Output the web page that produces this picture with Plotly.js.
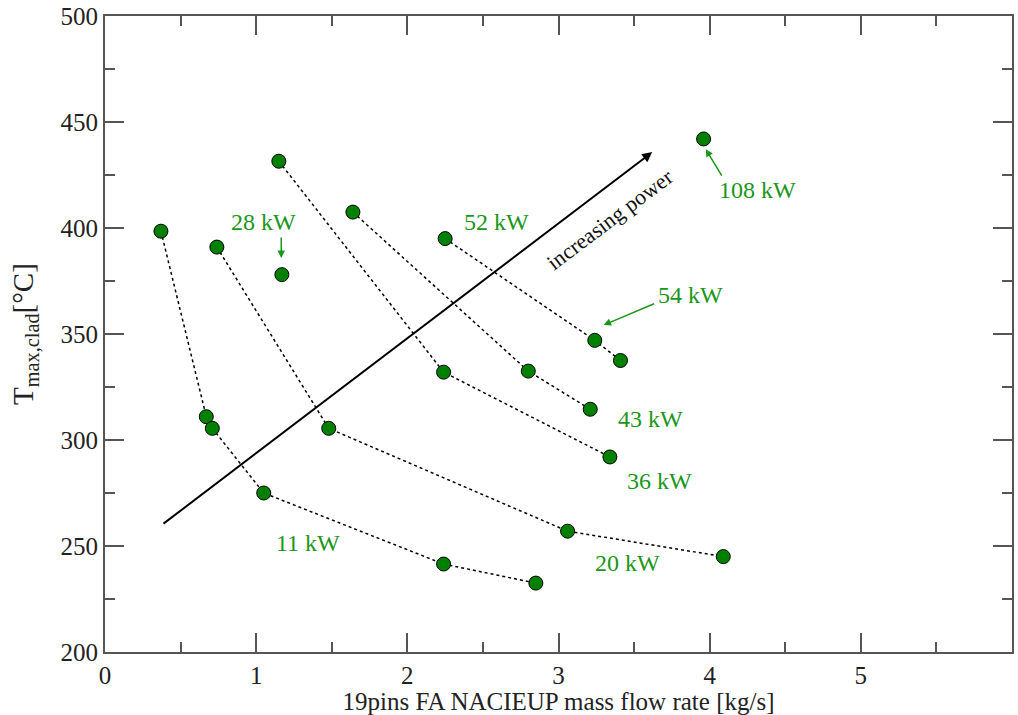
<!DOCTYPE html>
<html>
<head>
<meta charset="utf-8">
<script src="https://cdn.plot.ly/plotly-3.0.1.min.js"></script>
<style>html,body{margin:0;padding:0;background:#fff;}#chart{width:1018px;height:715px;}</style>
</head>
<body>
<div id="chart"></div>
<script>
// Series data (mass flow rate [kg/s], max clad temperature [°C])
const s11_x = [0.37, 0.67, 0.71, 1.05, 2.24, 2.85];
const s11_y = [398.5, 311, 305.5, 275, 241.5, 232.5];
const s20_x = [0.74, 1.48, 3.06, 4.09];
const s20_y = [391, 305.5, 257, 245];
const s36_x = [1.15, 2.24, 3.34];
const s36_y = [431.5, 332, 292];
const s43_x = [1.64, 2.80, 3.21];
const s43_y = [407.5, 332.5, 314.5];
const s52_x = [2.25, 3.24, 3.41];
const s52_y = [395, 347, 337.5];
const s28_x = [1.17];
const s28_y = [378];
const s108_x = [3.96];
const s108_y = [442];

const seriesList = [
  [s11_x, s11_y], [s20_x, s20_y], [s36_x, s36_y], [s43_x, s43_y], [s52_x, s52_y],
  [s28_x, s28_y], [s108_x, s108_y]
];

const FONT = 'Liberation Serif, Times New Roman, serif';
const GREEN_TXT = '#1a961a';
const markerStyle = {size: 14, color: '#008000', line: {color: '#000', width: 1}};

const traces = seriesList.map(s => ({
  x: s[0], y: s[1], type: 'scatter',
  mode: s[0].length > 1 ? 'lines+markers' : 'markers',
  line: {color: '#000', width: 1.5, dash: 'dot'},
  marker: markerStyle, hoverinfo: 'x+y', showlegend: false
}));

function lbl(text, x, y) {
  return {text: text, x: x, y: y, xref: 'x', yref: 'y', showarrow: false,
    font: {family: FONT, size: 24, color: GREEN_TXT}};
}
function arr(x, y, ax, ay, color, width, head, size) {
  return {text: '', x: x, y: y, ax: ax, ay: ay, xref: 'x', yref: 'y', axref: 'x', ayref: 'y',
    showarrow: true, arrowhead: head, arrowsize: size, arrowwidth: width, arrowcolor: color, standoff: 0, startstandoff: 0};
}

const annotations = [
  lbl('11 kW', 1.344, 251.5),
  lbl('20 kW', 3.457, 242.1),
  lbl('36 kW', 3.669, 280.8),
  lbl('43 kW', 3.609, 310.0),
  lbl('52 kW', 2.589, 402.8),
  lbl('54 kW', 3.874, 368.4),
  lbl('28 kW', 1.046, 402.8),
  lbl('108 kW', 4.318, 417.9),
  arr(1.166, 385.8, 1.166, 396.2, '#1a961a', 1.5, 2, 1),
  arr(3.298, 354.2, 3.642, 364.6, '#1a961a', 1.5, 2, 1),
  arr(3.974, 437.2, 4.086, 424.0, '#1a961a', 1.5, 2, 1),
  arr(3.62, 435.8, 0.377, 260, '#000', 2, 2, 1),
  {text: 'increasing power', x: 3.338, y: 404.2, xref: 'x', yref: 'y', showarrow: false,
   textangle: -37, font: {family: FONT, size: 22, color: '#111'}}
];

const axisCommon = {
  showline: true, linecolor: '#555', linewidth: 2, mirror: 'allticks',
  ticks: 'inside', ticklen: 19, tickwidth: 2, tickcolor: '#555',
  showgrid: false, zeroline: false,
  tickfont: {family: FONT, size: 25, color: '#222'}
};

const layout = {
  width: 1018, height: 715,
  margin: {l: 105, r: 6, t: 16, b: 63},
  paper_bgcolor: '#fff', plot_bgcolor: '#fff',
  font: {family: FONT},
  xaxis: Object.assign({}, axisCommon, {
    range: [0, 6], dtick: 1, tick0: 0,
    minor: {ticks: 'inside', ticklen: 10, dtick: 0.5, tickwidth: 2, tickcolor: '#555', showgrid: false},
    title: {text: '19pins FA NACIEUP mass flow rate [kg/s]', font: {family: FONT, size: 25, color: '#222'}, standoff: 4}
  }),
  yaxis: Object.assign({}, axisCommon, {
    range: [200, 500], dtick: 50, tick0: 200,
    minor: {ticks: 'inside', ticklen: 10, dtick: 25, tickwidth: 2, tickcolor: '#555', showgrid: false},
    title: {text: 'T<sub>max,clad</sub>[°C]', font: {family: FONT, size: 29, color: '#222'}, standoff: 18}
  }),
  annotations: annotations
};

Plotly.newPlot('chart', traces, layout, {displayModeBar: false, staticPlot: true});
</script>
</body>
</html>
